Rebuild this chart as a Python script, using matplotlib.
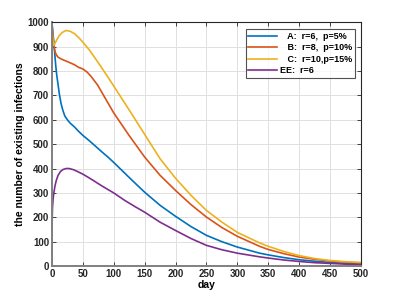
import numpy as np
import matplotlib.pyplot as plt

plt.rcParams['font.family'] = ['Liberation Sans', 'DejaVu Sans']

# values
days_a = [0, 1, 2, 3, 4, 5, 6.5, 8, 9.7, 12.4, 15, 17.8, 21, 25.9, 30, 36.7, 43, 50,
          60, 69, 80, 90.6, 100, 115, 130, 150, 175, 200, 225, 250, 275, 300, 336,
          350, 375, 400, 425, 450, 475, 500]
vals_a = [1000, 975, 950, 920, 890, 860, 815, 780, 750, 700, 665, 638, 615, 597, 585,
          570, 553, 536, 515, 495, 470, 447, 425, 388, 351, 303, 249, 204, 162, 126,
          100, 78, 53, 46, 35, 26, 20, 15, 11, 8]

days_b = [0, 1, 2, 3, 4, 5.4, 7, 9.7, 15, 20.5, 28, 36.7, 43, 50, 57, 63.6, 74, 87,
          100, 125, 150, 175, 200, 225, 250, 275, 300, 336, 350, 375, 400, 425, 450,
          475, 500]
vals_b = [1000, 965, 935, 910, 893, 877, 867, 857, 849, 843, 835, 825, 815, 808, 795,
          777, 742, 685, 628, 535, 447, 372, 310, 252, 201, 158, 122, 81, 68, 51, 37,
          28, 21, 16, 13]

days_c = [0, 1, 2, 3.2, 5, 8, 12, 17, 23, 30, 37, 44, 50, 60, 74.4, 90.6, 100, 125,
          150, 175, 200, 225, 250, 275, 300, 336, 350, 375, 400, 425, 450, 475, 500]
vals_c = [1000, 950, 918, 905, 912, 928, 945, 958, 966, 962, 952, 935, 918, 888, 836,
          775, 738, 640, 540, 440, 360, 290, 228, 180, 138, 95, 81, 60, 43, 31, 23,
          18, 15]

days_ee = [0, 0.3, 0.6, 1, 2, 3, 5, 7, 10, 14, 18, 23, 28, 35, 42, 50, 58, 67, 80,
           100, 118, 135, 150, 175, 200, 225, 250, 275, 300, 336, 350, 375, 400, 425,
           450, 475, 500]
vals_ee = [0, 120, 200, 240, 275, 297, 328, 350, 372, 388, 396, 400, 400, 395, 387,
           377, 365, 351, 330, 300, 269, 243, 221, 180, 146, 113, 85, 67, 53, 38, 33,
           25, 19, 14, 11, 8, 6]

labels = ['   A:  r=6,  p=5%', '   B:  r=8,  p=10%', '   C:  r=10,p=15%', 'EE:  r=6']
colors = ['#0072BD', '#D95319', '#EDB120', '#7E2F8E']

fig = plt.figure(figsize=(3.99, 2.99), dpi=100)
ax = fig.add_axes([0.130, 0.110, 0.775, 0.816])

series = [(days_a, vals_a), (days_b, vals_b), (days_c, vals_c), (days_ee, vals_ee)]
for (d, v), lab, c in zip(series, labels, colors):
    ax.plot(d, v, color=c, lw=1.2, label=lab, solid_joinstyle='round')

ax.set_xlim(0, 500)
ax.set_ylim(0, 1000)
ax.set_xticks(np.arange(0, 501, 50))
ax.set_yticks(np.arange(0, 1001, 100))
ax.grid(True, color='#e0e0e0', lw=0.7)
ax.tick_params(direction='in', top=True, right=True, length=3, width=0.6,
               labelsize=7, colors='#262626', pad=2)
for lbl in ax.get_xticklabels() + ax.get_yticklabels():
    lbl.set_fontweight('bold')
for s in ['left', 'bottom']:
    ax.spines[s].set_color('#808080')
    ax.spines[s].set_linewidth(1.4)
for s in ['top', 'right']:
    ax.spines[s].set_color('#262626')
    ax.spines[s].set_linewidth(0.8)

ax.set_xlabel('day', fontsize=7.5, fontweight='bold', labelpad=1)
ax.set_ylabel('the number of existing infections', fontsize=7.5, fontweight='bold', labelpad=2)

leg = ax.legend(loc='upper right', bbox_to_anchor=(0.98, 0.97), fontsize=6.5,
                frameon=True, fancybox=False, edgecolor='#262626',
                handlelength=3.2, handletextpad=0.3, borderpad=0.3,
                labelspacing=0.25, borderaxespad=0)
leg.get_frame().set_linewidth(0.8)
for t in leg.get_texts():
    t.set_fontweight('bold')

fig.savefig('out.png', dpi=100)
